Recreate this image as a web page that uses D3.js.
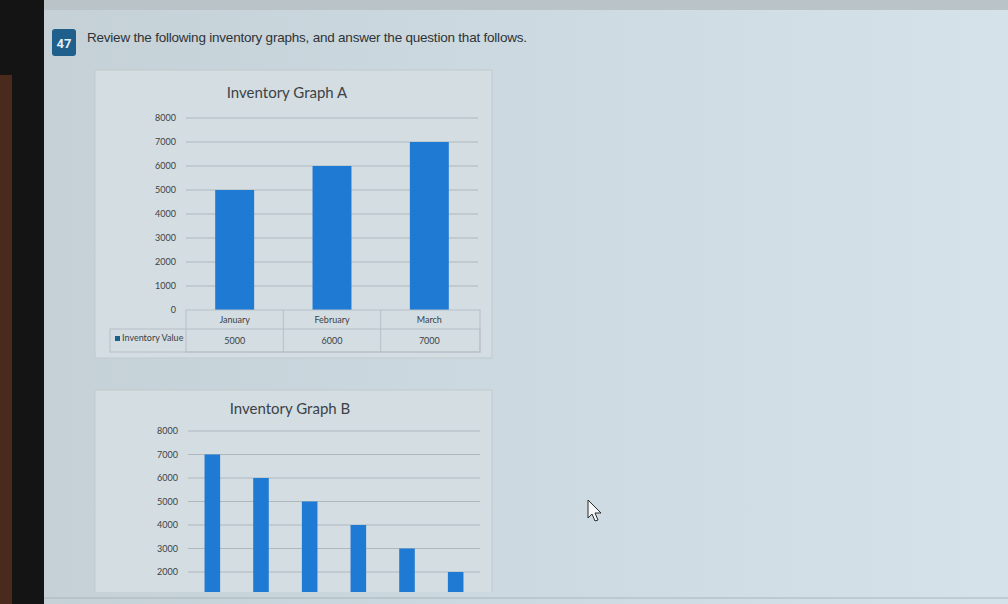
<!DOCTYPE html>
<html>
<head>
<meta charset="utf-8">
<script src="https://cdn.jsdelivr.net/npm/d3@7"></script>
<style>
  body { margin: 0; overflow: hidden; background: #cdd8de; }
  svg { display: block; }
</style>
</head>
<body>
<div id="chart-area"></div>
<script>
// data
var monthsA = ['January', 'February', 'March'];
var valuesA = [5000, 6000, 7000];
var seriesName = 'Inventory Value';
var monthsB = ['January', 'February', 'March', 'April', 'May', 'June'];
var valuesB = [7000, 6000, 5000, 4000, 3000, 2000];
var yTicks = [0, 1000, 2000, 3000, 4000, 5000, 6000, 7000, 8000];

var W = 1008, H = 604;
var barColor = '#1f7ad3';
var chartFont = 'Lato, "Open Sans", sans-serif';

var svg = d3.select('#chart-area')
  .append('svg')
    .attr('width', W)
    .attr('height', H);

// background with a light gradient like the photo
var defs = svg.append('defs');
var grad = defs.append('linearGradient').attr('id', 'bg').attr('x1', 0).attr('x2', 1);
grad.append('stop').attr('offset', '0%').attr('stop-color', '#c4d0d6');
grad.append('stop').attr('offset', '100%').attr('stop-color', '#d5e2ea');
svg.append('rect').attr('width', W).attr('height', H).attr('fill', 'url(#bg)');

// graph B is cut off by the bottom of the screen
defs.append('clipPath').attr('id', 'clipB')
  .append('rect').attr('x', 0).attr('y', 0).attr('width', W).attr('height', 592);

// top strip + dark screen bezel on the left
svg.append('rect').attr('x', 0).attr('y', 0).attr('width', W).attr('height', 10).attr('fill', '#b9c3c8');
svg.append('rect').attr('x', 0).attr('y', 0).attr('width', 44).attr('height', H).attr('fill', '#141414');
svg.append('rect').attr('x', 0).attr('y', 75).attr('width', 12).attr('height', H - 75).attr('fill', '#4a2a1c');

// question header
svg.append('rect')
  .attr('x', 52).attr('y', 29).attr('width', 24).attr('height', 27)
  .attr('rx', 3).attr('fill', '#1e5f8c');
svg.append('text')
  .attr('x', 64).attr('y', 48)
  .attr('text-anchor', 'middle')
  .attr('font-family', 'Roboto, Arial, sans-serif')
  .attr('font-size', '13px').attr('font-weight', 'bold')
  .attr('fill', '#e8eef2')
  .text('47');
svg.append('text')
  .attr('x', 87).attr('y', 42)
  .attr('font-family', '"Liberation Sans", Arial, sans-serif')
  .attr('font-size', '13.5px')
  .attr('fill', '#2e3336')
  .attr('textLength', 440)
  .text('Review the following inventory graphs, and answer the question that follows.');

function drawChart(opts) {
  var g = svg.append('g');
  if (opts.clip) g.attr('clip-path', 'url(#' + opts.clip + ')');

  g.append('rect')
    .attr('x', opts.box[0]).attr('y', opts.box[1])
    .attr('width', opts.box[2]).attr('height', opts.box[3])
    .attr('fill', '#d3dde2')
    .attr('stroke', '#bfcace');

  g.append('text')
    .attr('x', opts.titleX)
    .attr('y', opts.titleY)
    .attr('text-anchor', 'middle')
    .attr('font-family', chartFont)
    .attr('font-size', '15px')
    .attr('fill', '#3c4246')
    .text(opts.title);

  var x = d3.scaleBand()
    .domain(opts.cats)
    .range([opts.left, opts.right])
    .paddingInner(opts.pad)
    .paddingOuter(opts.pad / 2);

  var y = d3.scaleLinear()
    .domain([0, 8000])
    .range([opts.bottom, opts.top]);

  // gridlines
  g.append('g')
    .selectAll('line')
    .data(yTicks.slice(1))
    .enter()
    .append('line')
      .attr('x1', opts.left).attr('x2', opts.right)
      .attr('y1', (d) => y(d)).attr('y2', (d) => y(d))
      .attr('stroke', '#aeb8bd');

  // y axis labels
  var yAxis = d3.axisLeft(y)
    .tickValues(yTicks.filter((d) => y(d) < opts.labelLimit))
    .tickFormat(d3.format('d'))
    .tickSize(0).tickPadding(10);
  var ya = g.append('g')
    .attr('transform', 'translate(' + opts.left + ',0)')
    .call(yAxis);
  ya.select('.domain').remove();
  ya.selectAll('text')
    .attr('font-family', chartFont)
    .attr('font-size', '9px')
    .attr('fill', '#3c4246');

  g.selectAll('rect.bar')
    .data(opts.vals)
    .enter()
    .append('rect')
      .attr('class', 'bar')
      .attr('x', (d, i) => x(opts.cats[i]))
      .attr('width', x.bandwidth())
      .attr('y', (d) => y(d))
      .attr('height', (d) => opts.bottom - y(d))
      .attr('fill', barColor);

  return { x: x, y: y, g: g };
}

// Graph A
var a = drawChart({
  box: [95, 70, 397, 288],
  title: 'Inventory Graph A',
  titleX: 287, titleY: 98,
  cats: monthsA, vals: valuesA,
  left: 186, right: 478, top: 118, bottom: 310,
  pad: 0.6, labelLimit: 999
});

// data table under graph A
var rowTop = 310, rowMid = 329, rowBot = 352;
var tbl = a.g.append('g')
  .attr('fill', 'none')
  .attr('stroke', '#b5c0c5');
tbl.append('rect').attr('x', 186).attr('y', rowTop).attr('width', 480 - 186).attr('height', rowBot - rowTop);
tbl.append('rect').attr('x', 110).attr('y', rowMid).attr('width', 480 - 110).attr('height', rowBot - rowMid);
monthsA.slice(1).forEach(function(m) {
  var xv = a.x(m) - a.x.step() * a.x.paddingInner() / 2;
  tbl.append('line').attr('x1', xv).attr('x2', xv).attr('y1', rowTop).attr('y2', rowBot);
});

a.g.selectAll('text.cat')
  .data(monthsA)
  .enter()
  .append('text')
    .attr('class', 'cat')
    .attr('x', (d) => a.x(d) + a.x.bandwidth() / 2)
    .attr('y', rowTop + 13)
    .attr('text-anchor', 'middle')
    .attr('font-family', chartFont)
    .attr('font-size', '9px')
    .attr('fill', '#3c4246')
    .text((d) => d);

a.g.selectAll('text.val')
  .data(valuesA)
  .enter()
  .append('text')
    .attr('class', 'val')
    .attr('x', (d, i) => a.x(monthsA[i]) + a.x.bandwidth() / 2)
    .attr('y', rowMid + 15)
    .attr('text-anchor', 'middle')
    .attr('font-family', chartFont)
    .attr('font-size', '9px')
    .attr('fill', '#3c4246')
    .text((d) => d);

a.g.append('rect')
  .attr('x', 115).attr('y', rowMid + 7)
  .attr('width', 5).attr('height', 5)
  .attr('fill', '#1f5f8c');
a.g.append('text')
  .attr('x', 122).attr('y', rowMid + 12)
  .attr('font-family', chartFont)
  .attr('font-size', '9px')
  .attr('fill', '#3c4246')
  .text(seriesName);

// Graph B (runs off the bottom of the screen)
drawChart({
  box: [95, 390, 397, 300],
  title: 'Inventory Graph B',
  titleX: 290, titleY: 414,
  cats: monthsB, vals: valuesB,
  left: 188, right: 480, top: 431, bottom: 619,
  pad: 0.68, labelLimit: 585, clip: 'clipB'
});
svg.append('line')
  .attr('x1', 44).attr('x2', W).attr('y1', 598).attr('y2', 598)
  .attr('stroke', '#aab5ba');

// mouse pointer
svg.append('path')
  .attr('d', 'M588,500 L588,518 L592,514 L595,521 L598,520 L595,513 L601,513 Z')
  .attr('fill', '#f4f6f7')
  .attr('stroke', '#2a2a2a')
  .attr('stroke-width', 1);
</script>
</body>
</html>
